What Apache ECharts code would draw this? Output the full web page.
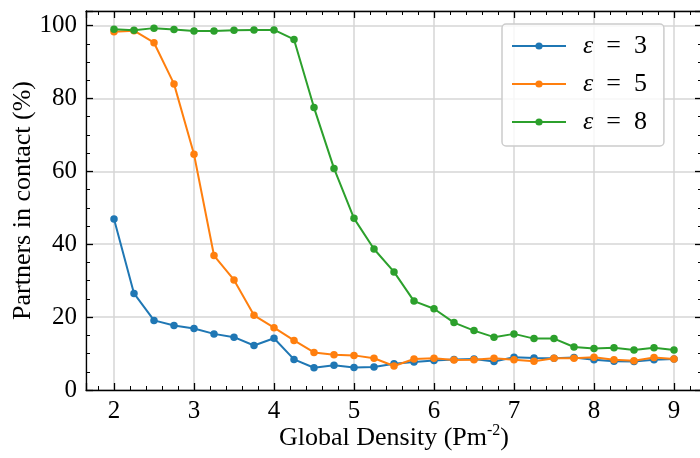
<!DOCTYPE html>
<html>
<head>
<meta charset="utf-8">
<title>Partners in contact vs global density</title>
<script src="https://cdn.jsdelivr.net/npm/echarts@6/dist/echarts.min.js"></script>
<style>
  html, body { margin: 0; padding: 0; background: #ffffff; }
  #chart { width: 700px; height: 458px; }
</style>
</head>
<body>
<div id="chart"></div>
<script>
// Global density values (x) shared by all three series
const density = [2, 2.25, 2.5, 2.75, 3, 3.25, 3.5, 3.75, 4, 4.25, 4.5, 4.75, 5, 5.25, 5.5,
  5.75, 6, 6.25, 6.5, 6.75, 7, 7.25, 7.5, 7.75, 8, 8.25, 8.5, 8.75, 9];

// Percentage of partners in contact for each epsilon
const eps3 = [46.9, 26.5, 19.1, 17.7, 16.9, 15.4, 14.5, 12.2, 14.2, 8.4, 6.1, 6.8, 6.2, 6.3, 7.2,
  7.7, 8.1, 8.4, 8.5, 7.8, 9.0, 8.8, 8.7, 8.9, 8.3, 7.9, 7.8, 8.3, 8.5];
const eps5 = [98.3, 98.6, 95.3, 84.0, 64.7, 36.9, 30.2, 20.5, 17.1, 13.6, 10.3, 9.7, 9.5, 8.7, 6.6,
  8.5, 8.7, 8.2, 8.3, 8.7, 8.3, 7.9, 8.7, 8.7, 9.0, 8.3, 8.0, 8.9, 8.5];
const eps8 = [99.0, 98.7, 99.3, 98.9, 98.5, 98.5, 98.7, 98.8, 98.8, 96.2, 77.5, 60.8, 47.1, 38.7, 32.4,
  24.4, 22.3, 18.5, 16.3, 14.5, 15.4, 14.1, 14.1, 11.8, 11.4, 11.6, 11.0, 11.6, 11.0];

const seriesNames = ['ε = 3', 'ε = 5', 'ε = 8'];
const seriesValues = [eps3, eps5, eps8];
const colors = ['#1f77b4', '#ff7f0e', '#2ca02c'];

const FONT = '"Liberation Serif", "Times New Roman", serif';
const X_RANGE = [1.65, 9.35];
const Y_RANGE = [0, 104];

const chart = echarts.init(document.getElementById('chart'), null, { renderer: 'canvas' });

function frameAxis(extra) {
  return Object.assign({
    type: 'value',
    axisLine: { show: true, onZero: false, lineStyle: { color: '#000', width: 1.3 } },
    axisTick: { show: true, inside: true, length: 7, lineStyle: { color: '#000', width: 1.3 } },
    minorTick: { show: true, length: 4, lineStyle: { color: '#000', width: 1 } },
    splitLine: { show: false },
    axisLabel: { show: false }
  }, extra);
}

const option = {
  backgroundColor: '#ffffff',
  animation: false,
  grid: { left: 86, top: 11, width: 616, height: 379, containLabel: false, outerBoundsMode: 'none' },
  xAxis: [
    frameAxis({
      position: 'bottom', min: X_RANGE[0], max: X_RANGE[1], splitNumber: 8,
      minorTick: { show: true, splitNumber: 5, length: 4, lineStyle: { color: '#000', width: 1 } },
      splitLine: { show: true, lineStyle: { color: '#d6d6d6', width: 1.5 } },
      axisLabel: {
        show: true, color: '#000', fontFamily: FONT, fontSize: 25, margin: 9,
        formatter: v => (Math.abs(v - Math.round(v)) < 1e-9 ? String(Math.round(v)) : '')
      },
      name: '{t|Global Density (Pm}{s|-2}{t|)}',
      nameLocation: 'middle', nameGap: 33, nameMoveOverlap: false,
      nameTextStyle: {
        color: '#000', fontFamily: FONT, fontSize: 26,
        rich: {
          t: { fontFamily: FONT, fontSize: 26, color: '#000', lineHeight: 30 },
          s: { fontFamily: FONT, fontSize: 16, color: '#000', verticalAlign: 'top', lineHeight: 22 }
        }
      }
    }),
    frameAxis({
      position: 'top', min: X_RANGE[0], max: X_RANGE[1], splitNumber: 8,
      minorTick: { show: true, splitNumber: 5, length: 4, lineStyle: { color: '#000', width: 1 } }
    })
  ],
  yAxis: [
    frameAxis({
      position: 'left', min: Y_RANGE[0], max: Y_RANGE[1], splitNumber: 5,
      minorTick: { show: true, splitNumber: 4, length: 4, lineStyle: { color: '#000', width: 1 } },
      splitLine: { show: true, lineStyle: { color: '#d6d6d6', width: 1.5 } },
      axisLabel: {
        show: true, color: '#000', fontFamily: FONT, fontSize: 25, margin: 9,
        formatter: v => (Math.abs(v % 20) < 1e-9 ? String(Math.round(v)) : '')
      },
      name: 'Partners in contact (%)',
      nameLocation: 'middle', nameGap: 50, nameMoveOverlap: false,
      nameTextStyle: { color: '#000', fontFamily: FONT, fontSize: 26 }
    }),
    frameAxis({
      position: 'right', min: Y_RANGE[0], max: Y_RANGE[1], splitNumber: 5,
      minorTick: { show: true, splitNumber: 4, length: 4, lineStyle: { color: '#000', width: 1 } }
    })
  ],
  legend: {
    orient: 'vertical',
    left: 502, top: 24,
    data: seriesNames,
    backgroundColor: 'rgba(255,255,255,0.8)',
    borderColor: '#cccccc', borderWidth: 1.5, borderRadius: 4,
    padding: [8, 17, 10, 9],
    itemWidth: 54, itemHeight: 9, itemGap: 10,
    selectedMode: false,
    formatter: name => {
      const parts = name.split(' = ');
      return '{e|' + parts[0] + '}{r|\u2002=\u2002' + parts[1] + '}';
    },
    textStyle: {
      color: '#000', fontFamily: FONT, fontSize: 26, lineHeight: 28,
      rich: {
        e: { fontFamily: FONT, fontSize: 26, fontStyle: 'italic', color: '#000', padding: [0, 0, 0, 12], lineHeight: 28 },
        r: { fontFamily: FONT, fontSize: 26, color: '#000', lineHeight: 28 }
      }
    }
  },
  series: seriesNames.map((name, k) => ({
    name: name,
    type: 'line',
    xAxisIndex: 0,
    yAxisIndex: 0,
    data: density.map((x, i) => [x, seriesValues[k][i]]),
    symbol: 'circle',
    symbolSize: 7.5,
    showSymbol: true,
    lineStyle: { color: colors[k], width: 2 },
    itemStyle: { color: colors[k] },
    emphasis: { disabled: true },
    z: 2 + k
  }))
};

chart.setOption(option);
</script>
</body>
</html>
